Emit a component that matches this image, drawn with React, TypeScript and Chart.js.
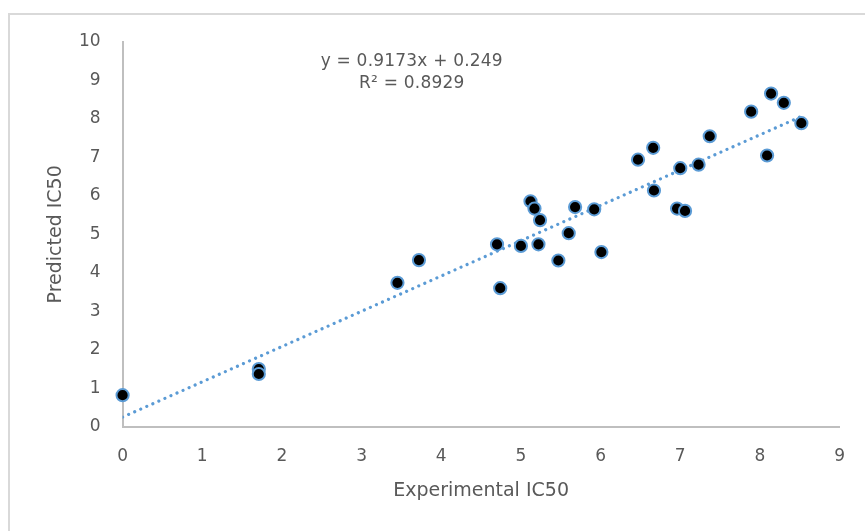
import React, { useEffect, useRef } from "react";
import { Chart, registerables } from "chart.js";

Chart.register(...registerables);

// Experimental vs predicted IC50 values
const experimentalIC50 = [
  0.0, 1.71, 1.71, 3.45, 3.72, 4.70, 4.74, 5.00, 5.12, 5.17,
  5.24, 5.22, 5.47, 5.60, 5.68, 5.92, 6.01, 6.47, 6.66, 6.67,
  6.96, 7.06, 7.00, 7.23, 7.37, 7.89, 8.09, 8.14, 8.30, 8.52,
];
const predictedIC50 = [
  0.82, 1.50, 1.37, 3.74, 4.33, 4.74, 3.60, 4.70, 5.86, 5.67,
  5.37, 4.74, 4.32, 5.03, 5.71, 5.65, 4.54, 6.94, 7.25, 6.14,
  5.67, 5.61, 6.72, 6.81, 7.55, 8.19, 7.05, 8.66, 8.42, 7.89,
];

// Linear trend line shown in the chart
const trendSlope = 0.9173;
const trendIntercept = 0.249;
const trendLabels = ["y = 0.9173x + 0.249", "R\u00b2 = 0.8929"];

const xTicks = [0, 1, 2, 3, 4, 5, 6, 7, 8, 9];
const yTicks = [0, 1, 2, 3, 4, 5, 6, 7, 8, 9, 10];

const FONT = "'DejaVu Sans', 'Open Sans', sans-serif";
const TEXT = "#595959";

export default function App() {
  const ref = useRef<HTMLCanvasElement | null>(null);

  useEffect(() => {
    if (!ref.current) return;
    const xMin = Math.min(...experimentalIC50);
    const xMax = Math.max(...experimentalIC50);
    const trend = [
      { x: xMin, y: trendSlope * xMin + trendIntercept },
      { x: xMax, y: trendSlope * xMax + trendIntercept },
    ];

    const framePlugin = {
      id: "frame",
      beforeDraw(chart: any) {
        const ctx = chart.ctx;
        ctx.save();
        ctx.strokeStyle = "#D9D9D9";
        ctx.lineWidth = 2;
        ctx.beginPath();
        ctx.moveTo(9, 540);
        ctx.lineTo(9, 14);
        ctx.lineTo(880, 14);
        ctx.stroke();
        ctx.restore();
      },
    };

    const eqPlugin = {
      id: "equation",
      afterDraw(chart: any) {
        const ctx = chart.ctx;
        const xs = chart.scales.x;
        const ys = chart.scales.y;
        const cx = xs.getPixelForValue(3.63);
        ctx.save();
        ctx.fillStyle = TEXT;
        ctx.font = `17px ${FONT}`;
        ctx.textAlign = "center";
        ctx.textBaseline = "middle";
        (ctx as any).letterSpacing = "0.2px";
        ctx.fillText(trendLabels[0], cx, ys.getPixelForValue(9.48));
        ctx.fillText(trendLabels[1], cx, ys.getPixelForValue(8.92));
        ctx.restore();
      },
    };

    const chart = new Chart(ref.current, {
      type: "scatter",
      data: {
        datasets: [
          {
            type: "line",
            label: "Trend",
            data: trend,
            borderColor: "#5B9BD5",
            borderWidth: 3.2,
            borderDash: [0.01, 6.6],
            borderCapStyle: "round",
            pointRadius: 0,
            fill: false,
            order: 2,
          } as any,
          {
            label: "IC50",
            data: experimentalIC50.map((x, i) => ({ x, y: predictedIC50[i] })),
            backgroundColor: "#000000",
            borderColor: "#5B9BD5",
            borderWidth: 2,
            pointRadius: 6.1,
            clip: false,
            order: 1,
          } as any,
        ],
      },
      options: {
        responsive: false,
        animation: false,
        devicePixelRatio: 1,
        layout: { padding: { left: 0, top: 42, right: 22, bottom: 0 } },
        plugins: {
          legend: { display: false },
          tooltip: { enabled: false },
        },
        scales: {
          x: {
            type: "linear",
            min: 0,
            max: 9,
            afterBuildTicks(scale: any) {
              scale.ticks = xTicks.map((v) => ({ value: v }));
            },
            afterFit(scale: any) {
              scale.height = 104.3;
            },
            grid: { display: false, drawTicks: false },
            border: { display: true, color: "#BFBFBF", width: 2 },
            ticks: {
              color: TEXT,
              font: { family: FONT, size: 17 },
              padding: 20,
              maxRotation: 0,
            },
            title: {
              display: true,
              text: "Experimental IC50",
              color: TEXT,
              font: { family: FONT, size: 19 },
              padding: { top: 0, bottom: 28.6 },
            },
          },
          y: {
            type: "linear",
            min: 0,
            max: 10,
            afterBuildTicks(scale: any) {
              scale.ticks = yTicks.map((v) => ({ value: v }));
            },
            afterFit(scale: any) {
              scale.width = 122.6;
            },
            grid: { display: false, drawTicks: false },
            border: { display: true, color: "#BFBFBF", width: 2 },
            ticks: {
              color: TEXT,
              font: { family: FONT, size: 17 },
              padding: 22,
            },
            title: {
              display: true,
              text: "Predicted IC50",
              color: TEXT,
              font: { family: FONT, size: 19 },
              padding: { top: 45, bottom: 0 },
            },
          },
        },
      },
      plugins: [framePlugin, eqPlugin],
    });
    return () => chart.destroy();
  }, []);

  return (
    <div style={{ position: "fixed", left: 0, top: 0, width: 865, height: 531, background: "#fff" }}>
      <canvas ref={ref} width={865} height={531} style={{ display: "block" }} />
    </div>
  );
}
